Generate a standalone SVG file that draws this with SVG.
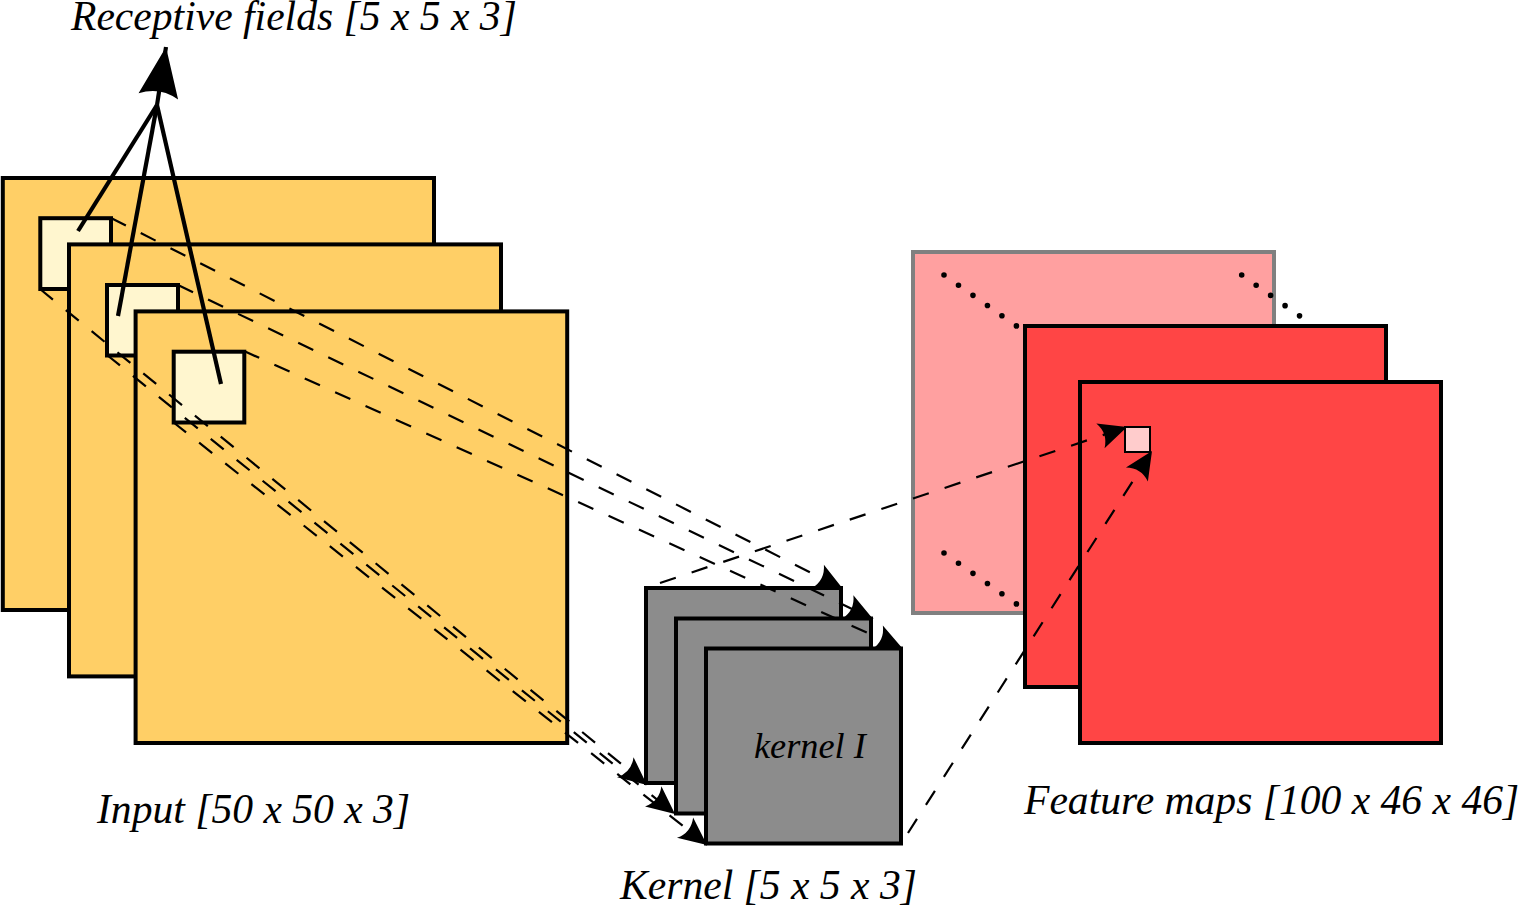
<svg xmlns="http://www.w3.org/2000/svg" width="1518" height="905" viewBox="0 0 1518 905">
<style>
.o{fill:#ffcf66;stroke:#000;stroke-width:4}
.y{fill:#fff6cf;stroke:#000;stroke-width:4}
.k{fill:#8c8c8c;stroke:#000;stroke-width:4}
.r{fill:#ff4545;stroke:#000;stroke-width:4}
.d{fill:none;stroke:#000;stroke-width:2.2;stroke-dasharray:16.67 16.67}
.s{fill:none;stroke:#000;stroke-width:4.2}
.p{fill:none;stroke:#000;stroke-width:5.6;stroke-dasharray:0 17.7;stroke-linecap:round}
text{font-family:"Liberation Serif","Times New Roman",serif;font-style:italic;font-size:41.6px;fill:#000}
</style>
<defs>
<marker id="a" markerUnits="userSpaceOnUse" markerWidth="36" markerHeight="36" refX="32" refY="18" orient="auto" overflow="visible"><path d="M32 18L4 5Q12 18 4 31Z" fill="#000"/></marker>
<marker id="b" markerUnits="userSpaceOnUse" markerWidth="60" markerHeight="60" refX="50" refY="30" orient="auto" overflow="visible"><path d="M50 30L0 10Q10 30 0 50Z" fill="#000"/></marker>
</defs>
<g id="input"><rect class="o" x="2.8" y="178" width="431.2" height="432"/><rect class="y" x="40.3" y="218.2" width="70.7" height="70.8"/><rect class="o" x="69" y="244.4" width="432" height="432"/><rect class="y" x="107" y="285" width="71" height="70.5"/><rect class="o" x="135.6" y="311.4" width="431.6" height="431.6"/><rect class="y" x="173.7" y="351.7" width="70.6" height="70.8"/></g>
<g id="kernel"><rect class="k" x="646" y="588" width="195" height="195"/><rect class="k" x="676" y="618.5" width="195" height="195"/><rect class="k" x="706" y="648.5" width="195" height="195"/><text x="754" y="758" style="font-size:36.3px">kernel I</text></g>
<g id="maps"><rect x="913" y="252" width="361" height="361" fill="#ffa0a0" stroke="#808080" stroke-width="4"/><rect class="r" x="1025" y="326" width="361" height="361"/><rect class="r" x="1080" y="382" width="361" height="361"/><rect x="1125" y="427" width="25" height="25" fill="#ffcccc" stroke="#000" stroke-width="2"/></g>
<g id="connectors">
<path class="d" d="M111 218L843 589" marker-end="url(#a)"/>
<path class="d" d="M178 285L873 619" marker-end="url(#a)"/>
<path class="d" d="M244 351L903 649" marker-end="url(#a)"/>
<path class="d" d="M40 289L647 785" marker-end="url(#a)"/>
<path class="d" d="M107 355L675 814" marker-end="url(#a)"/>
<path class="d" d="M173 422L707 845" marker-end="url(#a)"/>
<path class="d" d="M660 583L1127 427" marker-end="url(#a)"/>
<path class="d" d="M908 833L1152 451" marker-end="url(#a)"/>
<path class="p" d="M944 275L1018 327"/>
<path class="p" d="M1241.7 275L1304 319"/>
<path class="p" d="M944 553L1018 605"/>
<path class="s" d="M78 231L157 105"/>
<path class="s" d="M118 316L157 105"/>
<path class="s" d="M221 384L157 105"/>
<path class="s" d="M157 105L166 47" marker-end="url(#b)"/>
</g>
<g id="labels">
<text x="71" y="30">Receptive fields [5 x 5 x 3]</text>
<text x="97" y="823">Input [50 x 50 x 3]</text>
<text x="620" y="899">Kernel [5 x 5 x 3]</text>
<text x="1024" y="814">Feature maps [100 x 46 x 46]</text>
</g>
</svg>
